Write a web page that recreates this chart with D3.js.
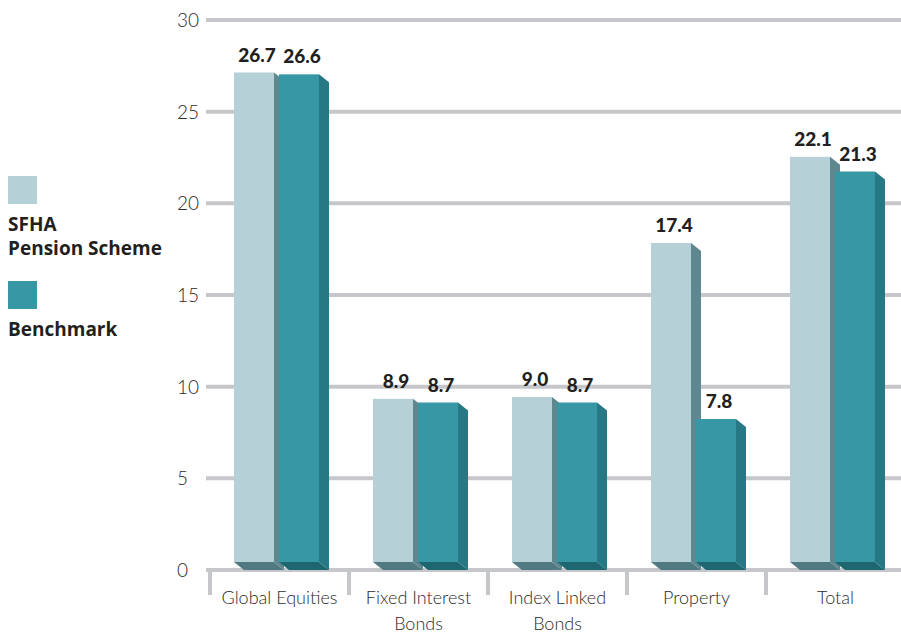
<!DOCTYPE html>
<html>
<head>
<meta charset="utf-8">
<script src="https://cdn.jsdelivr.net/npm/d3@7"></script>
<style>
  html, body { margin: 0; padding: 0; background: #ffffff; }
  svg { display: block; }
</style>
</head>
<body>
<svg id="chart" width="901" height="633"></svg>
<script>
// ---- data ----
const categories = ["Global Equities", "Fixed Interest\nBonds", "Index Linked\nBonds", "Property", "Total"];
const seriesNames = ["SFHA\nPension Scheme", "Benchmark"];
const sfhaValues = [26.7, 8.9, 9.0, 17.4, 22.1];
const benchmarkValues = [26.6, 8.7, 8.7, 7.8, 21.3];
const yTicks = [0, 5, 10, 15, 20, 25, 30];

// ---- styles ----
const palette = [
  { front: "#b6d0d7", side: "#5f8790", bottom: "#517981" },
  { front: "#3797a4", side: "#257884", bottom: "#1e6771" }
];
const gridColor = "#c5c7cb";
const textColor = "#231f20";
const fontFamily = "Lato, 'Open Sans', sans-serif";
const boldFamily = "'Open Sans', Lato, sans-serif";

const svg = d3.select("#chart");

const y = d3.scaleLinear().domain([0, 30]).range([570, 20]);
const x = d3.scaleBand().domain(categories).range([210, 905]).paddingInner(0).paddingOuter(0);

const depthX = 10, depthY = 8;
const barW = 40, barGap = 5, barOffset = 24;

// gridlines
svg.append("g").selectAll("line").data(yTicks).join("line")
  .attr("x1", 206).attr("x2", 901)
  .attr("y1", d => y(d)).attr("y2", d => y(d))
  .attr("stroke", gridColor).attr("stroke-width", 4);

// y tick labels
svg.append("g").selectAll("text").data(yTicks).join("text")
  .attr("x", 177).attr("y", d => y(d) + 7)
  .attr("font-family", fontFamily).attr("font-weight", 300)
  .attr("font-size", 19).attr("fill", "#2b2b2b")
  .text(d => d);

// category separators (ticks below axis)
const sepX = categories.map(c => x(c));
svg.append("g").selectAll("line").data(sepX).join("line")
  .attr("x1", d => d).attr("x2", d => d)
  .attr("y1", 570).attr("y2", 595)
  .attr("stroke", gridColor).attr("stroke-width", 4);

// bars
const series = [sfhaValues, benchmarkValues];
const barsG = svg.append("g");
categories.forEach((c, i) => {
  series.forEach((vals, s) => {
    const v = vals[i];
    const x0 = x(c) + barOffset + s * (barW + barGap);
    const x1 = x0 + barW;
    const top = y(v) - depthY;
    const bot = y(0) - depthY;
    const col = palette[s];
    const g = barsG.append("g");
    // bottom bevel
    g.append("polygon")
      .attr("points", [[x0, bot], [x1, bot], [x1 + depthX, bot + depthY], [x0 + depthX, bot + depthY]].map(p => p.join(",")).join(" "))
      .attr("fill", col.bottom);
    // right side
    g.append("polygon")
      .attr("points", [[x1, top], [x1 + depthX, top + depthY], [x1 + depthX, bot + depthY], [x1, bot]].map(p => p.join(",")).join(" "))
      .attr("fill", col.side);
    // front
    g.append("rect")
      .attr("x", x0).attr("y", top).attr("width", barW).attr("height", bot - top)
      .attr("fill", col.front);
    // value label
    g.append("text")
      .attr("x", x0 + barW / 2 + 3).attr("y", top - 11)
      .attr("text-anchor", "middle")
      .attr("font-family", fontFamily).attr("font-weight", 900)
      .attr("font-size", 19).attr("fill", textColor)
      .text(v.toFixed(1));
  });
});

// category labels
categories.forEach(c => {
  const lines = c.split("\n");
  lines.forEach((ln, k) => {
    svg.append("text")
      .attr("x", x(c) + x.bandwidth() / 2)
      .attr("y", 604 + k * 26)
      .attr("text-anchor", "middle")
      .attr("font-family", fontFamily).attr("font-weight", 300)
      .attr("font-size", 18).attr("fill", "#2b2b2b")
      .text(ln);
  });
});

// legend
const legendY = [176, 281];
seriesNames.forEach((name, s) => {
  svg.append("rect")
    .attr("x", 8).attr("y", legendY[s]).attr("width", 29).attr("height", 28)
    .attr("fill", palette[s].front);
  name.split("\n").forEach((ln, k) => {
    svg.append("text")
      .attr("x", 8).attr("y", legendY[s] + 55 + k * 23.5)
      .attr("font-family", boldFamily).attr("font-weight", 700)
      .attr("font-size", 19).attr("fill", textColor)
      .text(ln);
  });
});
</script>
</body>
</html>
